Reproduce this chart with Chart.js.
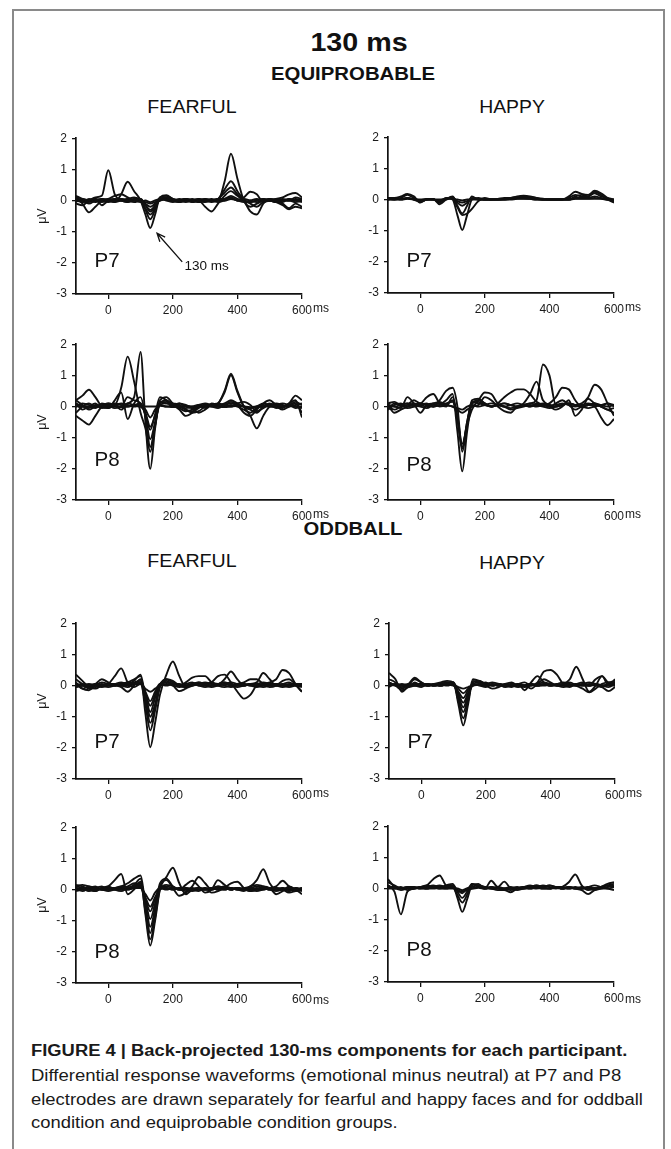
<!DOCTYPE html>
<html>
<head>
<meta charset="utf-8">
<script src="https://cdn.jsdelivr.net/npm/chart.js@4.4.0/dist/chart.umd.min.js"></script>
<style>
body { margin: 0; background: #fff; }
#page { position: relative; width: 671px; height: 1149px; overflow: hidden; font-family: "Liberation Sans", Arial, sans-serif; color: #111; }
.c { position: absolute; white-space: nowrap; line-height: 1; transform-origin: center center; }
.cap { position: absolute; left: 31px; white-space: nowrap; line-height: 1; font-size: 16px; transform-origin: left center; color: #1a1a1a; }
canvas { position: absolute; }
.bx { position: absolute; background: #8a8a8a; }
</style>
</head>
<body>
<div id="page">
  <div class="bx" style="left:12px; top:9px; width:653px; height:2px;"></div>
  <div class="bx" style="left:12px; top:9px; width:2px; height:1140px;"></div>
  <div class="bx" style="left:663px; top:9px; width:2px; height:1140px;"></div>

  <div class="c" data-w="97" style="left:359px; top:42px; font-size:26px; font-weight:bold;">130 ms</div>
  <div class="c" data-w="164" style="left:353px; top:74px; font-size:18px; font-weight:bold;">EQUIPROBABLE</div>
  <div class="c" data-w="89" style="left:192px; top:107px; font-size:18.5px;">FEARFUL</div>
  <div class="c" data-w="66" style="left:512px; top:107px; font-size:18.5px;">HAPPY</div>
  <div class="c" data-w="99" style="left:353px; top:529px; font-size:18px; font-weight:bold;">ODDBALL</div>
  <div class="c" data-w="89" style="left:192px; top:561px; font-size:18.5px;">FEARFUL</div>
  <div class="c" data-w="66" style="left:512px; top:563px; font-size:18.5px;">HAPPY</div>

  <div class="cap" data-w="596" style="top:1051px; font-weight:bold;">FIGURE 4 | Back-projected 130-ms components for each participant.</div>
  <div class="cap" data-w="590" style="top:1076px;">Differential response waveforms (emotional minus neutral) at P7 and P8</div>
  <div class="cap" data-w="612" style="top:1100px;">electrodes are drawn separately for fearful and happy faces and for oddball</div>
  <div class="cap" data-w="366" style="top:1123px;">condition and equiprobable condition groups.</div>
</div>
<script>
// time points (ms) shared by every waveform
const ms = [-100,-80,-60,-40,-20,0,20,40,60,80,100,115,130,145,160,180,200,220,240,260,280,300,320,340,360,380,400,420,440,460,480,500,520,540,560,580,600];
const xTicks = [0, 200, 400, 600];

// EQUIPROBABLE / FEARFUL / P7
const eqFearP7 = [
  [.05,-.05,0,.1,.15,.97,.2,0,-.05,.05,0, -.15,-.35,-.2, .05,.1,0,0,.05,0,-.05,0,.05,0,.6,1.5,.7,0,-.2,-.1,0,.05,0,-.1,-.25,-.1,-.2],
  [.1,0,-.1,0,.05,0,-.05,.2,.6,.3,0, -.45,-.88,-.45, .1,.15,.05,0,.05,0,-.05,0,0,.05,.35,.62,.3,0,-.35,-.45,-.1,.05,0,.05,0,.1,.05],
  [.1,-.1,-.38,-.2,0,.05,0,.05,0,.05,.05, -.3,-.6,-.3, .05,.1,0,-.05,0,.05,0,.05,0,.05,.25,.42,.2,0,-.1,-.2,-.05,0,.05,0,0,-.05,0],
  [-.1,-.15,0,.05,-.15,0,.05,0,.05,.1,0, -.25,-.45,-.25, .05,.05,0,.05,0,-.05,0,-.2,-.35,-.1,.15,.3,.15,0,-.05,0,.05,0,-.05,-.15,-.28,-.2,-.25],
  [.15,.05,0,-.05,0,.05,.15,.2,.1,0,.05, -.15,-.3,-.15, .1,.17,.05,0,-.05,0,.05,0,0,.05,.05,.1,0,.1,.28,.2,-.05,0,.05,.1,.2,.24,.1],
  [0,-.05,.05,0,-.05,0,.05,0,-.05,0,.05, -.1,-.2,-.1, 0,.05,0,-.05,0,0,.05,0,-.05,0,.05,.15,.05,0,-.05,0,.05,0,-.05,0,0,.05,0],
  [-.05,.05,0,.05,0,-.05,0,.05,0,-.05,0, -.05,-.1,-.05, 0,.05,0,0,.05,-.05,0,.05,0,-.05,0,.08,0,.05,0,-.05,0,.05,0,-.05,.05,0,-.05],
  [.05,0,-.05,0,.05,0,-.05,0,.05,0,-.05, 0,-.05,0, .05,0,-.05,0,.05,0,0,-.05,0,.05,0,.05,0,-.05,0,.05,0,0,-.05,0,.05,0,.05]
];

// EQUIPROBABLE / HAPPY / P7
const eqHapP7 = [
  [0,0,.05,.15,.05,-.05,0,0,-.05,.05,0, -.5,-.98,-.5, 0,.05,0,0,0,.02,.05,.08,.1,.08,.05,0,0,0,0,.1,.25,.18,.15,.28,.2,.05,-.08],
  [.05,.05,.1,.18,.1,-.1,0,0,-.1,.05,.05, -.25,-.5,-.45, -.3,-.05,.05,0,0,0,.05,.1,.12,.1,.05,.03,0,0,0,.05,.15,.1,.1,.25,.15,0,-.1],
  [0,.05,0,.05,0,-.05,0,.02,-.15,0,.1, -.2,-.45,-.2, .1,0,0,0,.02,.05,.05,.05,.05,.05,.02,0,0,0,0,0,.1,.15,.1,.2,.1,.05,0],
  [.02,0,.02,.05,0,-.08,0,.02,-.08,.02,.08, -.1,-.2,-.1, .05,.02,0,0,0,.02,.03,.04,.05,.03,.02,0,0,0,0,0,.05,.05,.05,.1,.05,0,-.05],
  [0,.02,0,.02,0,-.03,0,0,-.05,0,.05, -.05,-.1,-.05, .03,0,0,0,0,0,.02,.03,.03,.02,0,0,0,0,0,0,.03,.03,.03,.05,.03,0,-.03],
  [.03,0,.02,.03,.02,0,.02,0,0,.02,.02, 0,-.03,0, 0,0,0,0,0,0,0,.02,.02,.02,0,0,0,0,0,0,.02,.02,.02,.02,.02,0,0]
];

// EQUIPROBABLE / FEARFUL / P8
const eqFearP8 = [
  [.2,.05,-.1,0,.05,.1,.05,-.1,.1,.3,1.75, -.5,-2,-.7, .2,.3,.1,0,-.1,-.15,-.05,.05,.05,.1,.5,1.05,.5,0,-.3,-.7,-.3,0,.05,0,.1,.35,.2],
  [-.2,0,.1,0,0,.05,.05,.6,1.6,.8,-.2, -.7,-1.45,-.6, .1,.2,.05,-.05,-.15,-.1,0,.05,0,.1,.45,1,.45,0,-.1,-.2,0,.1,0,-.05,.1,.2,-.35],
  [.2,.35,.54,.3,0,-.05,.2,.45,-.4,.1,.3, -.3,-1.3,-.6, .15,.1,.05,-.1,-.3,-.2,0,.05,0,-.05,.05,.15,.05,-.2,-.3,-.1,.1,.2,.05,0,.05,.15,.05],
  [-.3,-.45,-.58,-.3,0,.1,.05,0,.3,.2,.1, -.3,-1.05,-.5, .1,.15,.1,.05,-.1,-.2,-.15,0,.05,.05,.1,.2,.1,0,-.05,0,.1,.05,0,-.1,0,.1,-.2],
  [.1,-.1,0,.1,-.05,0,.1,.05,0,.05,.1, -.25,-.75,-.25, .3,.2,0,.1,.05,-.05,-.2,-.1,.05,.1,.05,0,.1,.15,.05,-.15,-.05,.05,.1,.05,0,.05,.1],
  [0,.1,.05,-.05,.1,.05,-.05,0,.1,.05,0, -.2,-.65,-.3, .05,.1,.05,0,-.05,0,.05,-.05,.1,.05,0,.05,0,-.1,-.2,-.05,0,.05,-.05,0,.05,-.05,0],
  [.1,0,-.05,.05,0,-.05,.05,.1,.05,0,.05, -.1,-.35,-.1, .05,0,.05,.1,0,-.05,.05,.1,.05,0,.05,.1,.05,0,-.05,0,.05,0,.05,.1,.05,0,-.05],
  [0,.02,0,-.02,0,.02,0,-.02,0,.02,0, 0,0,0, .02,0,-.02,0,.02,0,-.02,0,.02,0,-.02,0,.02,0,-.02,0,.02,0,-.02,0,.02,0,0]
];

// EQUIPROBABLE / HAPPY / P8
const eqHapP8 = [
  [.1,.15,.05,.1,0,.05,.1,0,.05,.2,.4, -.8,-2.08,-.8, .1,.2,.1,0,.05,.1,.05,0,.05,.1,.2,1.35,1,.05,.1,.05,0,.05,.1,.05,0,-.1,-.2],
  [-.1,.05,.1,0,.05,.1,.05,0,.2,.5,.6, 0,-1.45,-.6, .2,.25,.1,0,.05,.1,.05,0,.1,.4,.8,.2,.05,0,.05,.1,.05,.1,.3,.7,.55,.1,-.3],
  [.05,0,-.05,.3,.1,-.2,.05,.1,0,.05,.2, -.4,-1.3,-.5, .15,.1,.05,0,.1,.3,.45,.55,.55,.4,.15,.05,0,.1,.2,.05,-.1,0,.05,0,-.35,-.6,-.4],
  [0,-.1,0,.05,.2,.1,.3,.4,.1,0,.3, -.3,-1.2,-.6, -.1,.2,.45,.4,.1,0,-.1,-.05,0,.05,0,.05,.1,.3,.6,.55,.2,0,.05,.1,0,-.1,-.05],
  [.05,-.2,-.1,0,.1,.05,0,.1,.15,.05,0, -.1,-.2,-.1, 0,.05,.3,.2,0,-.15,-.2,0,.05,0,.1,.05,0,-.1,0,.2,-.3,-.1,.25,.1,0,.1,0],
  [-.1,.1,.05,-.05,0,.1,.05,0,.05,.1,.15, -.4,-1.35,-.5, .1,.15,.05,0,.05,0,.05,.1,.05,0,.05,.1,.05,0,.05,.1,.05,0,.05,.1,.05,0,.05],
  [.05,0,.05,.1,.05,0,-.05,.05,.1,.05,0, -.05,-.1,0, .05,0,.05,.1,.05,0,-.05,0,.05,.1,.05,0,-.05,0,.05,.1,.05,0,-.05,0,.05,.1,.05]
];

// ODDBALL / FEARFUL / P7
const oddFearP7 = [
  [.35,.15,-.05,-.1,0,.05,0,.05,.1,.2,.3, -.9,-1.98,-1.2, -.3,.35,.77,.3,-.05,.05,.1,.05,0,.05,.1,.05,0,.05,0,.05,.1,.05,0,.05,.1,0,-.05],
  [.05,-.1,0,.05,0,.05,.3,.55,.1,-.05,.05, -.6,-1.44,-.8, -.05,.2,.15,0,-.05,.05,.1,.05,0,.05,.1,0,.05,0,.05,0,.05,.1,.2,.5,.4,.05,-.2],
  [-.05,0,-.1,0,.05,0,.05,.1,.05,.15,.35, -.4,-1.2,-.7, 0,.2,.1,0,.1,.25,.3,.3,.1,.05,.2,.45,.2,0,.05,.1,.4,.2,0,.05,0,.05,.05],
  [.1,-.1,-.15,0,.1,.05,0,-.05,-.2,0,.2, -.3,-1,-.6, 0,.1,0,-.18,-.1,0,.05,0,.1,.3,.35,.1,-.2,-.42,-.3,0,.05,0,.05,0,.05,0,-.2],
  [.2,.05,-.05,.05,.2,.1,0,.05,.1,.05,.1, -.3,-.85,-.4, .05,.15,.05,0,.05,.1,0,.05,.1,0,-.05,0,.05,.1,.2,.2,.05,-.05,0,.15,.2,.05,0],
  [0,.05,0,-.05,0,.05,.05,0,.05,.1,.15, -.25,-.65,-.3, .05,.1,.05,.05,0,0,.05,.1,.05,0,.05,.1,.05,0,.05,0,0,.05,.05,0,0,.05,0],
  [-.05,0,.05,0,-.05,0,.05,0,-.05,.05,.1, -.2,-.5,-.2, .05,0,.05,0,-.05,0,.05,0,-.05,0,.05,0,-.05,0,.05,0,-.05,0,.05,0,-.05,0,.05],
  [.05,0,-.05,.05,0,-.05,0,.05,0,.05,.05, -.1,-.2,-.1, 0,.05,0,-.05,0,.05,0,-.05,0,.05,0,-.05,0,.05,0,-.05,0,.05,0,-.05,0,.05,0]
];

// ODDBALL / HAPPY / P7
const oddHapP7 = [
  [.4,.2,-.2,0,.2,.1,0,.05,.1,.15,.1, -.6,-1.28,-.6, .15,.1,0,.05,0,0,.05,0,-.05,0,.05,.1,.05,0,.05,.2,.6,.2,-.2,0,.3,0,.2],
  [.2,.1,-.1,.05,.25,.1,0,.05,0,.05,.1, -.5,-1.05,-.5, .2,.15,.05,0,.05,0,0,.05,.1,0,.1,.45,.5,.35,.05,0,.05,.1,0,.2,.3,.1,.15],
  [.1,0,-.15,-.05,.1,0,.05,0,.05,.1,.05, -.4,-.85,-.4, .1,.15,.05,.1,.05,-.05,0,.05,-.15,.1,.3,.1,0,.05,.1,.05,0,.05,.1,.05,-.05,-.18,-.05],
  [0,.05,0,-.05,0,.05,.05,0,.05,.1,.05, -.3,-.7,-.3, .05,.1,0,-.1,-.05,.05,.1,0,0,-.1,.05,.2,.1,0,.05,.1,0,-.1,-.22,-.1,.05,.1,.05],
  [.05,0,.05,0,.05,0,0,.05,0,.05,.1, -.25,-.55,-.25, 0,.05,.1,0,.05,0,-.05,.05,0,.05,0,.05,0,.05,0,-.05,.05,0,.05,0,-.05,.05,0],
  [-.05,.05,0,.05,0,-.05,.05,0,0,.05,0, -.2,-.4,-.15, .05,0,-.05,.05,0,.05,0,-.05,0,.05,0,0,.05,0,-.05,0,.05,0,0,.05,0,-.05,.05],
  [.1,0,-.05,0,.05,.05,0,0,.05,0,.05, -.1,-.25,-.1, 0,.05,0,0,.05,0,.05,0,0,.05,0,.05,0,0,.05,0,0,.05,0,.05,0,.05,.1],
  [0,.02,0,.02,0,.02,0,.02,0,.02,0, -.05,-.1,-.05, 0,.02,0,.02,0,.02,0,.02,0,.02,0,.02,0,.02,0,.02,0,.02,0,.02,0,.02,0]
];

// ODDBALL / FEARFUL / P8
const oddFearP8 = [
  [.1,.05,-.05,.05,.1,0,.05,.1,.05,.15,.35, -.8,-1.8,-1, 0,.4,.7,.2,-.15,0,.05,0,.05,.1,.05,0,.05,0,.05,.1,.05,0,-.05,0,.05,0,-.05],
  [.15,.1,0,-.05,.05,.1,.3,.5,-.15,0,.2, -.7,-1.6,-.9, 0,.15,.1,0,.05,0,.05,0,0,.05,.1,.05,0,.05,.1,.3,.65,.2,0,.05,-.05,.05,0],
  [.05,-.05,.05,.1,0,.05,.05,.1,.2,.35,.45, -.5,-1.4,-.7, .1,.3,.05,-.2,-.1,.1,.4,.2,0,.1,.05,0,.05,0,-.05,0,.1,.05,-.15,-.05,.1,0,-.15],
  [.1,.15,.1,0,.05,.1,0,-.05,.05,.1,.25, -.4,-1.2,-.6, .2,.35,.1,0,.15,.28,.1,-.1,0,.3,.15,0,.05,0,.1,.15,.1,.05,.1,.28,.1,0,.05],
  [-.05,0,.1,.05,0,-.05,0,.05,.1,.2,.1, -.35,-.95,-.45, .1,.05,0,.05,0,-.05,0,.05,-.1,-.05,.05,.2,.25,.05,-.05,0,.05,0,.05,0,-.1,-.05,0],
  [0,.05,0,-.05,.05,0,.05,0,.05,.1,.15, -.3,-.7,-.3, .05,.1,.05,0,.05,0,-.05,.05,0,.05,0,.05,0,-.05,.05,0,.05,0,.05,0,-.05,.05,0],
  [.05,0,.05,0,0,.05,0,.05,0,.05,.1, -.25,-.55,-.25, 0,.05,0,.05,0,.05,0,0,.05,0,.05,0,.05,0,0,.05,0,.05,0,0,.05,0,.05],
  [0,.05,0,.05,0,0,.05,0,0,.05,.05, -.15,-.35,-.1, .05,0,.05,0,-.05,0,.05,0,.05,0,0,.05,0,.05,0,-.05,0,.05,0,.05,0,-.05,0]
];

// ODDBALL / HAPPY / P8
const oddHapP8 = [
  [.1,-.1,-.83,-.1,0,.05,0,.05,.1,.05,.1, -.3,-.75,-.35, .1,.15,0,.05,0,-.05,0,.05,0,.05,.1,.05,0,.05,0,.05,0,.05,0,-.05,0,.05,.1],
  [.2,.1,0,.05,0,.05,.1,.3,.42,.1,.05, -.2,-.45,-.2, .15,.1,.05,0,.05,0,-.05,0,.05,.1,.05,.1,.05,0,.05,.2,.45,.1,-.05,0,.05,.15,.2],
  [.3,.05,-.05,0,.05,0,.05,.1,.05,.1,.15, -.1,-.3,-.1, .15,.05,0,.25,.05,.22,0,-.05,0,.05,.1,.05,.1,.05,0,.05,0,-.05,-.18,-.05,.05,.1,.05],
  [.1,0,.05,-.05,0,.05,.1,.05,0,.05,.1, -.05,-.15,0, .05,.1,.05,0,-.05,-.05,-.12,0,.05,.05,0,.05,.1,.05,.05,0,.05,0,.05,.1,.05,0,-.05],
  [.05,.05,0,.05,.05,0,0,.05,0,0,.05, -.05,-.1,-.05, 0,.05,0,.05,0,0,.05,0,.05,0,.05,0,0,.05,0,.05,0,0,.05,0,.05,.1,.15],
  [0,0,.02,0,0,.02,0,0,.02,0,0, 0,-.05,0, 0,.02,0,0,.02,0,0,.02,0,0,.02,0,0,.02,0,0,.02,0,0,.02,0,0,.05]
];

[eqFearP7, eqHapP7, eqFearP8, eqHapP8, oddFearP7, oddHapP7, oddFearP8, oddHapP8].forEach((p, k) => {
    p.forEach((v, j) => { if (v.length !== ms.length) throw new Error('panel ' + k + ' line ' + j + ' has ' + v.length); });
});

Chart.defaults.font.family = '"Liberation Sans", Arial, sans-serif';
Chart.defaults.color = '#1a1a1a';

// electrode name, unit after 600 and the arrow note
const extras = {
    id: 'extras',
    afterDraw(chart, args, o) {
        const ctx = chart.ctx;
        const a = chart.chartArea;
        const x = chart.scales.x, y = chart.scales.y;
        ctx.save();
        ctx.fillStyle = '#111';
        ctx.font = '20.5px "Liberation Sans", Arial';
        ctx.textAlign = 'center';
        ctx.textBaseline = 'middle';
        ctx.fillText(o.site, a.left + 31, a.top + o.siteY);

        ctx.font = '12px "Liberation Sans", Arial';
        ctx.fillStyle = '#1a1a1a';
        ctx.textAlign = 'left';
        ctx.textBaseline = 'top';
        ctx.fillText('ms', x.getPixelForValue(600) + 11, a.bottom + 9 + (o.msDy || 0));

        if (o.note) {
            const n = o.note;
            const tx = x.getPixelForValue(n.tip[0]), ty = y.getPixelForValue(n.tip[1]);
            const fx = x.getPixelForValue(n.tail[0]), fy = y.getPixelForValue(n.tail[1]);
            ctx.strokeStyle = '#111';
            ctx.lineWidth = 1.3;
            ctx.beginPath();
            ctx.moveTo(fx, fy);
            ctx.lineTo(tx, ty);
            const ang = Math.atan2(fy - ty, fx - tx);
            ctx.moveTo(tx + 9 * Math.cos(ang - 0.4), ty + 9 * Math.sin(ang - 0.4));
            ctx.lineTo(tx, ty);
            ctx.lineTo(tx + 9 * Math.cos(ang + 0.4), ty + 9 * Math.sin(ang + 0.4));
            ctx.stroke();
            ctx.font = '13.5px "Liberation Sans", Arial';
            ctx.fillStyle = '#111';
            ctx.textBaseline = 'middle';
            ctx.fillText(n.text, x.getPixelForValue(n.at[0]), y.getPixelForValue(n.at[1]));
        }
        ctx.restore();
    }
};

const page = document.getElementById('page');

function panel(left, top, lines, opt) {
    const cv = document.createElement('canvas');
    cv.width = 316; cv.height = 194;
    cv.style.left = (left - 45) + 'px';
    cv.style.top = (top - 10) + 'px';
    page.appendChild(cv);
    new Chart(cv.getContext('2d'), {
        type: 'line',
        data: {
            datasets: lines.map(v => ({
                data: v.map((val, i) => ({ x: ms[i], y: val })),
                borderColor: '#101010',
                borderWidth: 1.9,
                pointRadius: 0,
                fill: false,
                cubicInterpolationMode: 'monotone'
            }))
        },
        options: {
            responsive: false,
            animation: false,
            events: [],
            layout: { padding: { left: 0, top: 10, right: 45, bottom: 0 } },
            plugins: {
                legend: { display: false },
                tooltip: { enabled: false },
                extras: opt
            },
            scales: {
                x: {
                    type: 'linear', min: -100, max: 600,
                    afterBuildTicks: s => { s.ticks = xTicks.map(v => ({ value: v })); },
                    afterFit: s => { s.height = 26; },
                    grid: { drawOnChartArea: false, drawTicks: true, tickLength: 5, color: '#111', lineWidth: 1.3 },
                    border: { color: '#111', width: 1.7 },
                    ticks: { font: { size: 12 }, padding: 4, maxRotation: 0, autoSkip: false }
                },
                y: {
                    min: -3, max: 2,
                    afterFit: s => { s.width = 45; },
                    grid: { drawOnChartArea: false, drawTicks: true, tickLength: 4, color: '#111', lineWidth: 1.3 },
                    border: { color: '#111', width: 1.7 },
                    ticks: { stepSize: 1, font: { size: 12 }, padding: 5 },
                    title: { display: opt.uv, text: '\u03BCV', font: { size: 12.5 }, padding: { top: 4, bottom: 0 }, color: '#1a1a1a' }
                }
            }
        },
        plugins: [extras]
    });
}

panel(76, 136, eqFearP7, { site: 'P7', siteY: 123, uv: true,
    note: { tip: [151, -1.05], tail: [229, -1.97], at: [236, -2.1], text: '130 ms' } });
panel(388, 135, eqHapP7, { site: 'P7', siteY: 124, uv: false });
panel(76, 342, eqFearP8, { site: 'P8', siteY: 116, uv: true });
panel(388, 342, eqHapP8, { site: 'P8', siteY: 121, uv: false });
panel(76, 621, oddFearP7, { site: 'P7', siteY: 119, uv: true });
panel(389, 621, oddHapP7, { site: 'P7', siteY: 119, uv: false });
panel(76, 825, oddFearP8, { site: 'P8', siteY: 125, uv: true, msDy: 3 });
panel(388, 824, oddHapP8, { site: 'P8', siteY: 124, uv: false, msDy: 3 });

// stretch the titles and caption lines to the widths in the figure
document.querySelectorAll('[data-w]').forEach(el => {
    const k = +el.dataset.w / el.offsetWidth;
    if (el.classList.contains('cap')) {
        el.style.transform = 'translateY(-50%) scaleX(' + k + ')';
    } else {
        el.style.transform = 'translate(-50%, -50%) scaleX(' + k + ')';
    }
});
</script>
</body>
</html>
